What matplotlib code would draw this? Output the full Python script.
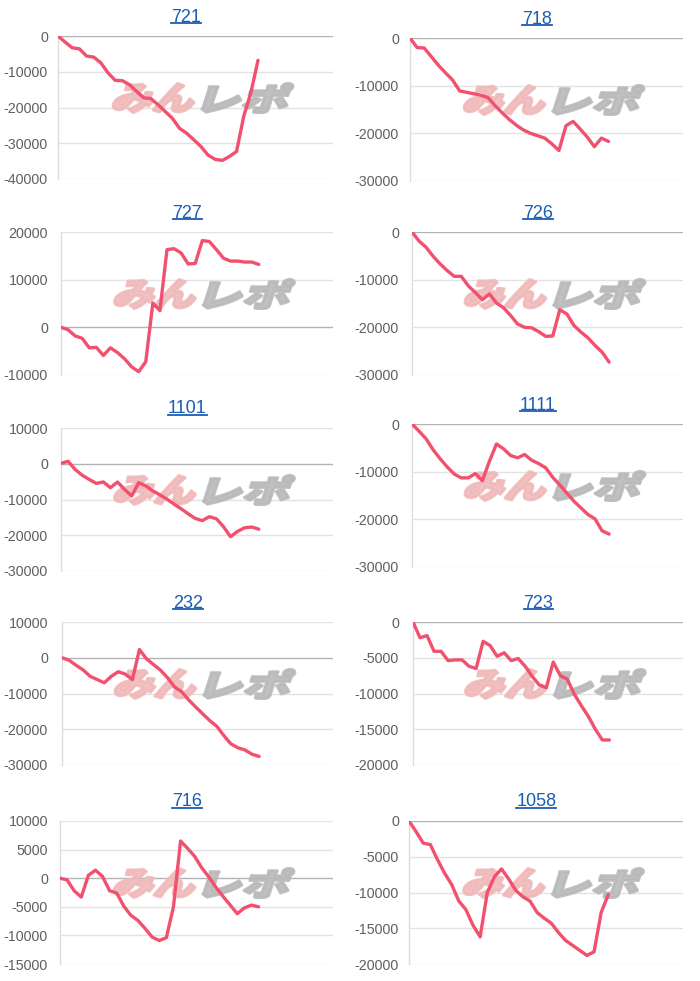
import numpy as np
import matplotlib
matplotlib.use('Agg')
import matplotlib.pyplot as plt
from matplotlib.textpath import TextPath
from matplotlib.font_manager import FontProperties
from matplotlib.patches import PathPatch
from matplotlib.lines import Line2D
from matplotlib.transforms import Affine2D, IdentityTransform

# machine numbers (panel titles)
titles = ['721', '718', '727', '726', '1101', '1111', '232', '723', '716', '1058']

# cumulative difference per game
s721 = [0, -1700, -3300, -3600, -5600, -5900, -7500, -10300, -12400, -12500, -13600, -15500, -17300, -17500,
        -19200, -21100, -23000, -25800, -27200, -29000, -30900, -33300, -34500, -34800, -33700, -32300,
        -22500, -15900, -6800]
s718 = [0, -2000, -2100, -3900, -5700, -7300, -8800, -11100, -11400, -11700, -12000, -12500, -14200, -15700,
        -17100, -18300, -19300, -20000, -20500, -21000, -22200, -23600, -18400, -17500, -19100, -20800,
        -22800, -21000, -21700]
s727 = [0, -500, -1800, -2300, -4300, -4200, -5900, -4300, -5300, -6600, -8300, -9300, -7200, 5100, 3500,
        16300, 16500, 15600, 13300, 13400, 18200, 18000, 16300, 14500, 13900, 13900, 13700, 13700, 13200]
s726 = [0, -1900, -3200, -5100, -6700, -8100, -9300, -9300, -11300, -12700, -14200, -13000, -14900, -15900,
        -17500, -19300, -20000, -20100, -20900, -21900, -21800, -16300, -17200, -19600, -21000, -22200,
        -23800, -25200, -27300]
s1101 = [100, 700, -1600, -3200, -4400, -5500, -5100, -6700, -5100, -7200, -9000, -5300, -6200, -7600,
         -8700, -9900, -11300, -12600, -14000, -15300, -15900, -14800, -15400, -17600, -20400, -18900,
         -17900, -17700, -18300]
s1111 = [0, -1500, -3100, -5400, -7300, -9000, -10500, -11300, -11300, -10400, -11900, -7800, -4200, -5200,
         -6600, -7100, -6400, -7600, -8300, -9200, -11200, -12800, -14500, -16200, -17600, -19000, -19900,
         -22400, -23100]
s232 = [0, -700, -2100, -3400, -5200, -6100, -7000, -5200, -3900, -4600, -6100, 2300, -300, -1900, -3500,
        -5600, -8200, -9500, -11800, -13800, -15700, -17600, -19200, -21800, -24100, -25200, -25800,
        -27000, -27600]
s723 = [0, -2200, -1900, -4100, -4100, -5400, -5300, -5300, -6200, -6500, -2700, -3300, -4800, -4300,
        -5400, -5100, -6200, -7600, -8800, -9200, -5600, -7500, -8000, -10100, -11700, -13200, -15000,
        -16500, -16500]
s716 = [0, -300, -2200, -3300, 500, 1400, 300, -2200, -2600, -4900, -6500, -7400, -8800, -10300, -10900,
        -10400, -5000, 6500, 5200, 3800, 1800, 200, -1600, -3200, -4700, -6200, -5200, -4700, -5000]
s1058 = [0, -1500, -3100, -3300, -5400, -7300, -8900, -11200, -12400, -14600, -16200, -10000, -7800, -6700,
         -8100, -9700, -10600, -11200, -12800, -13600, -14300, -15600, -16700, -17400, -18100, -18800,
         -18300, -12800, -10300]
series = [s721, s718, s727, s726, s1101, s1111, s232, s723, s716, s1058]

# y axis ranges (min, max, step)
yranges = [(-40000, 0, 10000), (-30000, 0, 10000), (-10000, 20000, 10000), (-30000, 0, 10000),
           (-30000, 10000, 10000), (-30000, 0, 10000), (-30000, 10000, 10000), (-20000, 0, 5000),
           (-15000, 10000, 5000), (-20000, 0, 5000)]
n_slots = 38.5

# layout in pixels
W, H = 700, 981
lefts = [58, 410, 61, 412, 61, 412, 62, 413, 60, 409]
rights = [333, 683]
tops = [36, 38, 232, 232, 428, 424, 622, 622, 821, 821]
ph = 143
label_right = [48, 399]

line_col = '#f2506e'
title_col = '#1a5db3'
jp = FontProperties(family='Noto Sans CJK JP', weight='black')

fig = plt.figure(figsize=(W / 100, H / 100), dpi=100)
fig.patch.set_facecolor('white')

axes = []
for i in range(10):
    col = i % 2
    l, r, t = lefts[i], rights[col], tops[i]
    ax = fig.add_axes([l / W, 1 - (t + ph) / H, (r - l) / W, ph / H])
    ymin, ymax, step = yranges[i]
    ticks = np.arange(ymin, ymax + 1, step)
    for v in ticks:
        ax.axhline(v, color='#b3b3b3' if v == 0 else '#e3e3e3', lw=1, zorder=0)
    y = series[i]
    ax.plot(range(len(y)), y, color=line_col, lw=2.4, solid_joinstyle='round', solid_capstyle='round', zorder=3)
    ax.set_xlim(0, n_slots)
    ax.set_ylim(ymin, ymax)
    ax.set_xticks([])
    ax.set_yticks(ticks)
    ax.set_yticklabels([str(int(v)) for v in ticks], fontfamily='Liberation Sans', fontsize=10.3, color='#606060')
    ax.tick_params(axis='y', length=0, pad=(l - label_right[col]) * 0.72)
    for s in ['top', 'right', 'bottom']:
        ax.spines[s].set_visible(False)
    ax.spines['left'].set_color('#dddddd')
    ax.spines['left'].set_linewidth(1)
    ax.patch.set_alpha(0)
    axes.append(ax)

# watermark
for ax in axes:
    X, Y = ax.transAxes.transform((0.53, 0.57))
    parts = [('みん', '#f0b9b9', -88, 80), ('レポ', '#b9b9b9', 2, 84)]
    for txt, c, x0, w in parts:
        p = TextPath((0, 0), txt, size=40, prop=jp)
        ext = p.get_extents()
        tr = (Affine2D().translate(-ext.x0, -ext.y0)
              .scale(w / ext.width, 29 / ext.height)
              .skew_deg(18, 0)
              .translate(X + x0 - 5, Y - 15))
        ax.add_patch(PathPatch(p, transform=tr, facecolor=c, edgecolor=c, lw=2.2,
                               joinstyle='round', zorder=1, alpha=0.9))

# titles with underline
texts = []
for i, ax in enumerate(axes):
    col = i % 2
    l, r, t = lefts[i], rights[col], tops[i]
    cx = l + 0.465 * (r - l)
    tx = fig.text(cx / W, 1 - (t - 19) / H, titles[i], ha='center', va='center',
                  fontfamily='Liberation Sans', fontsize=13, color=title_col)
    texts.append(tx)

fig.canvas.draw()
renderer = fig.canvas.get_renderer()
for tx in texts:
    bb = tx.get_window_extent(renderer)
    yy = bb.y0 + 2.5
    fig.add_artist(Line2D([bb.x0, bb.x1], [yy, yy], color=title_col, lw=1.3, transform=IdentityTransform()))

fig.savefig('out.png', dpi=100, facecolor='white')
